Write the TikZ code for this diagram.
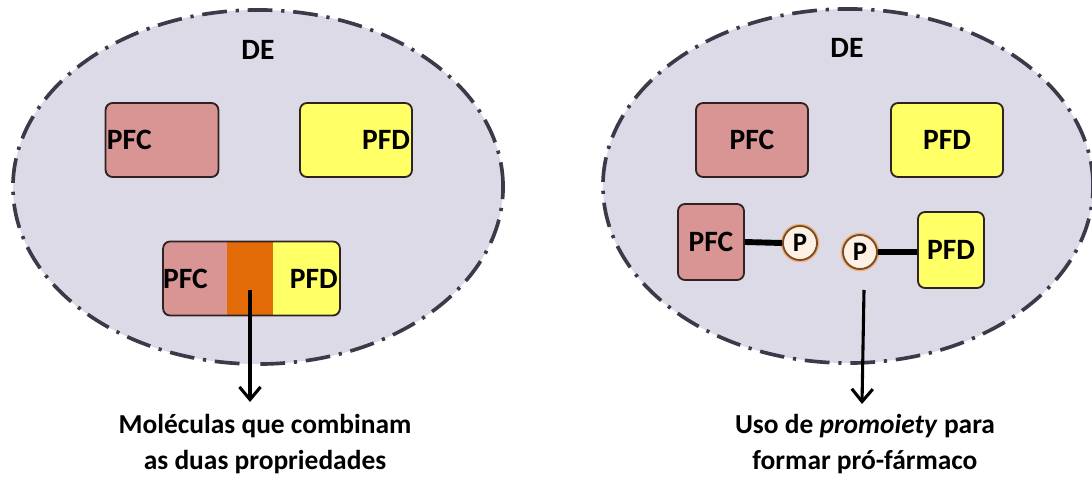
\documentclass[tikz,border=0pt]{standalone}
\usepackage{fontspec}
\setmainfont{Carlito}
\usetikzlibrary{shapes.geometric,arrows.meta}

\definecolor{domfill}{HTML}{DDDAE8}
\definecolor{domline}{HTML}{3B3A48}
\definecolor{pfccol}{HTML}{D99594}
\definecolor{pfdcol}{HTML}{FFFF66}
\definecolor{orangecol}{HTML}{E36C09}
\definecolor{pfill}{HTML}{FEF1E3}
\definecolor{pline}{HTML}{7A4A26}
\definecolor{boxline}{HTML}{2E2222}

\begin{document}
\begin{tikzpicture}[x=0.025cm,y=-0.025cm,
        every node/.style={font=\bfseries},
        domzone/.style={ellipse,draw=domline,fill=domfill,line width=2.6pt,
            dash pattern=on 0.62cm off 0.22cm on 0.08cm off 0.22cm,
            minimum width=12.25cm,minimum height=8.85cm,inner sep=0pt},
        label/.style={font=\fontsize{21}{23}\bfseries},
        molbox/.style={draw=boxline,line width=1.3pt,rounded corners=5pt,inner sep=1pt,
            minimum width=2.8cm,minimum height=1.85cm,label},
        pfcbox/.style={molbox,fill=pfccol},
        pfdbox/.style={molbox,fill=pfdcol},
        smallbox/.style={minimum width=1.65cm,minimum height=1.9cm},
        pcircle/.style={circle,draw=pline,fill=pfill,line width=1.3pt,inner sep=0pt,
            minimum size=0.85cm,font=\fontsize{19}{20}\bfseries,
            preaction={draw=orange!55!brown!60,line width=3.2pt}},
        bond/.style={line width=4.2pt},
        pointer/.style={line width=2.2pt,-{Straight Barb[length=9pt,width=15pt,line width=2.2pt]}},
        caption/.style={align=center,font=\fontsize{19.5}{25}\bfseries}
    ]
    \useasboundingbox (0,0) rectangle (1092,479);

    % left domain
    \node[domzone] (dom1) at (258,187) {};
    \node[label] (de1) at (258,50) {DE};
    \node[pfcbox,text width=2.75cm,align=left] (pfc1) at (162,140) {PFC};
    \node[pfdbox,text width=2.7cm,align=right] (pfd1) at (356,140) {PFD};
    \node[molbox,minimum width=4.42cm,
        path picture={
            \fill[pfccol,sharp corners] (path picture bounding box.north west) rectangle ([xshift=1.6cm]path picture bounding box.south west);
            \fill[orangecol,sharp corners] ([xshift=1.6cm]path picture bounding box.north west) rectangle ([xshift=2.75cm]path picture bounding box.south west);
            \fill[pfdcol,sharp corners] ([xshift=2.75cm]path picture bounding box.north west) rectangle (path picture bounding box.south east);
        }] (combo) at (251.5,278.5) {};
    \node[label,anchor=west,inner sep=0.5pt] (pfc2) at (combo.west) {PFC};
    \node[label,anchor=east,inner sep=2pt] (pfd2) at (combo.east) {PFD};
    \coordinate (link) at (250,290);
    \coordinate (tip1) at (250,402);
    \draw[pointer] (link) -- (tip1);
    \node[caption] (cap1) at (265,444) {Moléculas que combinam\\as duas propriedades};

    % right domain
    \node[domzone] (dom2) at (848,186) {};
    \node[label] (de2) at (847,48) {DE};
    \node[pfcbox] (pfc3) at (752,140) {PFC};
    \node[pfdbox] (pfd3) at (947,140) {PFD};
    \node[pfcbox,smallbox] (pfc4) at (711,242) {PFC};
    \node[pcircle] (p1) at (800,243) {P};
    \node[pcircle] (p2) at (860,252) {P};
    \node[pfdbox,smallbox] (pfd4) at (951,250) {PFD};
    \draw[bond] (pfc4.east) -- (p1.west);
    \draw[bond] (p2.east) -- (pfd4.west |- p2.east);
    \coordinate (tail2) at (864,290);
    \coordinate (tip2) at (862,404);
    \draw[pointer] (tail2) -- (tip2);
    \node[caption] (cap2) at (865,444) {Uso de \textit{promoiety} para\\formar pró-fármaco};
\end{tikzpicture}
\end{document}
